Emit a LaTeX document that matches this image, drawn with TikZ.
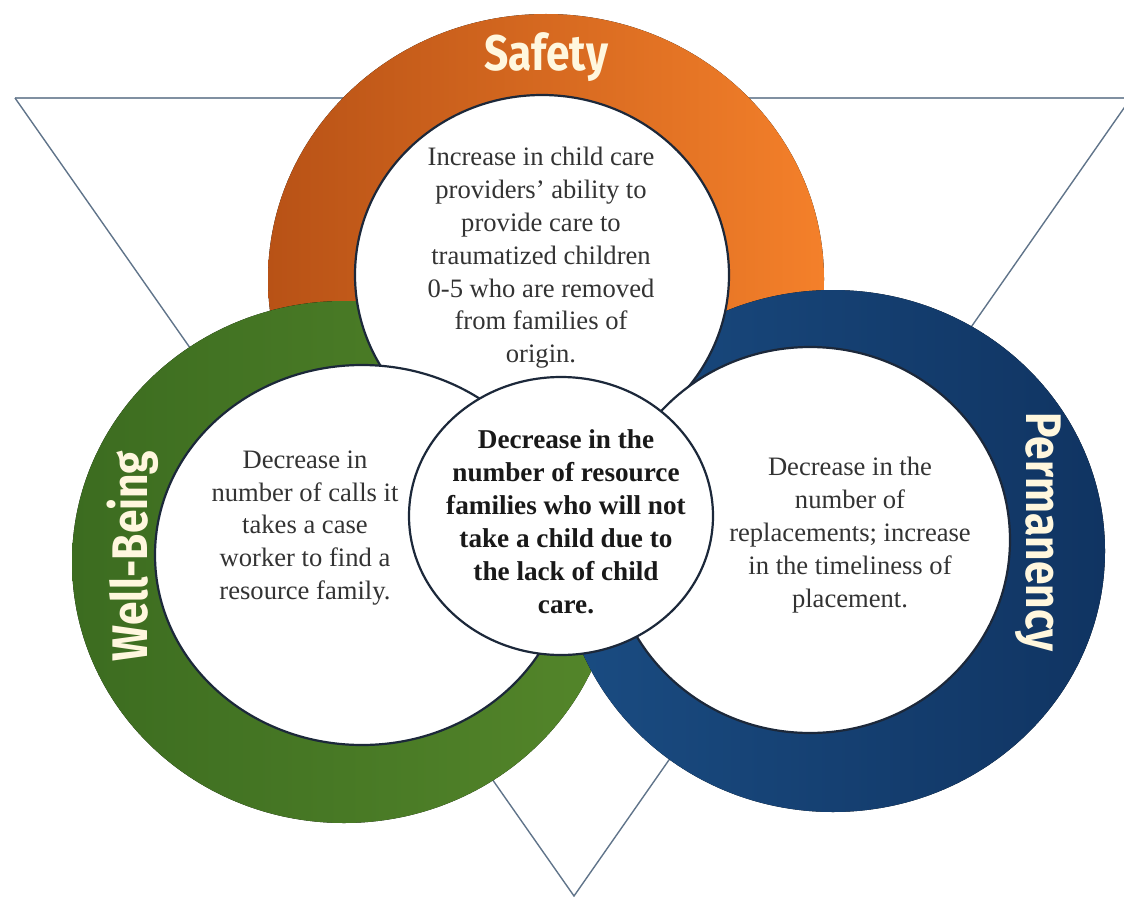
\documentclass[tikz,border=0pt]{standalone}
\usepackage{fontspec}
\setmainfont{Liberation Serif}
\newfontfamily\ringfont{Fira Sans}
\usepackage{tikz}

\definecolor{orangeD}{RGB}{184,82,22}
\definecolor{orangeL}{RGB}{244,128,42}
\definecolor{greenD}{RGB}{60,108,32}
\definecolor{greenL}{RGB}{84,134,42}
\definecolor{blueD}{RGB}{16,52,98}
\definecolor{blueL}{RGB}{26,76,130}
\definecolor{cream}{RGB}{255,247,222}
\definecolor{edge}{RGB}{28,40,58}
\definecolor{triline}{RGB}{96,116,138}

\begin{document}
\begin{tikzpicture}[x=0.5pt, y=-0.5pt,
    hole/.style={fill=white, draw=edge, line width=1.1pt},
    body/.style={align=center, text=black!80, font=\fontsize{13.3}{16.4}\selectfont},
    keytext/.style={align=center, text=black!90, font=\bfseries\fontsize{13.6}{16.5}\selectfont},
    ringlabel/.style={text=cream, font=\ringfont\bfseries\fontsize{25}{30}\selectfont}]
     \useasboundingbox (0,0) rectangle (1124,899);

     \coordinate (TL) at (15,98);
     \coordinate (TR) at (1131,98);
     \coordinate (BT) at (574,896);
     \draw[triline!80!white, line width=1.1pt] (TL) -- (TR);
     \draw[triline, line width=0.7pt] (TL) -- (BT) -- (TR);

     % rings
     \fill[left color=orangeD, right color=orangeL] (546,279) ellipse [x radius=278, y radius=265];
     \fill[left color=greenD, right color=greenL] (344,562) ellipse [x radius=272, y radius=261];
     \fill[left color=blueL, right color=blueD] (833,551) ellipse [x radius=272, y radius=261];

     \filldraw[hole] (542,275) ellipse [x radius=187, y radius=180];
     \filldraw[hole] (362,555) ellipse [x radius=207, y radius=190];
     \filldraw[hole] (810,540) ellipse [x radius=200, y radius=193];
     \filldraw[hole] (561,516) ellipse [x radius=152, y radius=139];

     \node[ringlabel] (safety) at (546,57) {\scalebox{0.85}[1]{Safety}};
     \node[ringlabel, rotate=90] (wellbeing) at (133,556) {\scalebox{0.85}[1]{Well-Being}};
     \node[ringlabel, rotate=-90] (permanency) at (1038,532) {\scalebox{0.85}[1]{Permanency}};

     \node[body] (safetytxt) at (541,258) {Increase in child care\\providers’ ability to\\provide care to\\traumatized children\\0-5 who are removed\\from families of\\origin.};
     \node[body] (wellbeingtxt) at (305,528) {Decrease in\\number of calls it\\takes a case\\worker to find a\\resource family.};
     \node[body] (permanencytxt) at (850,535) {Decrease in the\\number of\\replacements; increase\\in the timeliness of\\placement.};
     \node[keytext] (centertxt) at (566,522) {Decrease in the\\number of resource\\families who will not\\take a child due to\\the lack of child\\care.};
\end{tikzpicture}
\end{document}
